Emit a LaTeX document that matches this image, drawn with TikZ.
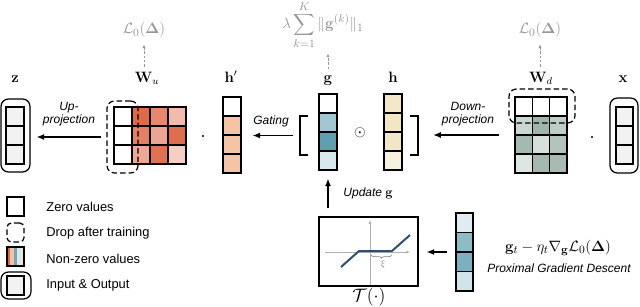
\documentclass[tikz,border=0pt]{standalone}
\usepackage{amsmath}
\usepackage[no-math]{fontspec}
\setsansfont{Liberation Sans}
\usetikzlibrary{arrows.meta, calc, decorations.pathreplacing}
\definecolor{upred}{RGB}{224,105,74}
\definecolor{peach}{RGB}{244,196,164}
\definecolor{gblue}{RGB}{95,159,178}
\definecolor{hyellow}{RGB}{241,231,197}
\definecolor{dgreen}{RGB}{159,181,171}
\definecolor{iogray}{RGB}{242,242,242}
\definecolor{lossgray}{RGB}{150,150,150}
\definecolor{tcurve}{RGB}{47,78,112}

\begin{document}
\begin{tikzpicture}[x=0.8pt, y=-0.8pt,
    cell/.style={draw, line width=1pt},
    outline/.style={draw, line width=1pt, inner sep=0pt},
    iobox/.style={draw, line width=1pt, rounded corners=6pt, inner sep=0pt},
    dropbox/.style={draw, line width=1pt, dash pattern=on 4.4pt off 2.4pt, rounded corners=6pt, inner sep=0pt},
    arr/.style={-{Latex[length=6pt,width=4.8pt]}, line width=1pt},
    lossarr/.style={-{Latex[length=3pt,width=2.6pt]}, lossgray, line width=0.6pt, dash pattern=on 2pt off 1.4pt},
    vlbl/.style={font=\fontsize{11.5}{13}\selectfont, anchor=base},
    lossf/.style={font=\fontsize{13}{15}\selectfont, text=lossgray},
    lbl/.style={font=\sffamily\itshape\fontsize{9.6}{10.4}\selectfont, align=center},
    legtxt/.style={font=\sffamily\fontsize{10.3}{12}\selectfont, anchor=west},
    dotn/.style={circle, fill, inner sep=0pt, minimum size=1.8pt},
    bracket/.style={line width=1.6pt},
    axis/.style={-{Latex[length=3pt,width=2.4pt]}, gray!60, line width=0.5pt}
]
  \useasboundingbox (0,0) rectangle (640,306);

  % Output z
  \foreach \r in {0,1,2}
    \filldraw[cell, fill=iogray] (6,{107+19*\r}) rectangle ++(18,19);
  \node[iobox, minimum width=23.2pt, minimum height=58.4pt] (zout) at (15.5,135.5) {};
  \node[vlbl] (zlab) at (15,82) {$\mathbf{z}$};

  % Up-projection W_u
  \foreach \r/\cs in {0/{white,upred,upred!80,upred!45},
                      1/{white,upred!85,upred!60,upred!98},
                      2/{white,upred!58,upred!95,upred!32}}
    \foreach \c [count=\k from 0] in \cs
      \filldraw[cell, fill=\c] ({114+18*\k},{107+19*\r}) rectangle ++(18,19);
  \node[outline, minimum width=57.6pt, minimum height=45.6pt] (Wu) at (150,135.5) {};
  \node[dropbox, minimum width=24.8pt, minimum height=57.6pt] (Wudrop) at (122.5,137) {};
  \node[vlbl] (Wulab) at (147,82) {$\mathbf{W}_u$};
  \node[lossf] (lossu) at (144,30) {$\mathcal{L}_0(\mathbf{\Delta})$};
  \draw[lossarr, shorten <=0.5pt, shorten >=2pt] (Wulab.north -| lossu.south) -- (lossu.south);

  \node[dotn] (dotu) at (203,136) {};

  % Gated hidden h'
  \foreach \c [count=\r from 0] in {white,peach,peach,peach}
    \filldraw[cell, fill=\c] (223,{97+19*\r}) rectangle ++(18,19);
  \node[outline, minimum width=14.4pt, minimum height=60.8pt] (hp) at (232,135) {};
  \node[vlbl] (hplab) at (231,82) {$\mathbf{h}'$};

  % Gate g and hidden h
  \foreach \c [count=\r from 0] in {white,gblue!58,gblue,gblue!24}
    \filldraw[cell, fill=\c] (319,{94+19*\r}) rectangle ++(18,19);
  \node[outline, minimum width=14.4pt, minimum height=60.8pt] (gate) at (328,132) {};
  \foreach \c [count=\r from 0] in {hyellow!95,hyellow,hyellow,hyellow!55}
    \filldraw[cell, fill=\c] (384,{94+19*\r}) rectangle ++(18,19);
  \node[outline, minimum width=14.4pt, minimum height=60.8pt] (hid) at (393,132) {};
  \node[font=\fontsize{12}{14}\selectfont] (had) at (360,133) {$\odot$};
  \node[vlbl] (glab) at (328,82) {$\mathbf{g}$};
  \node[vlbl] (hlab) at (393,82) {$\mathbf{h}$};
  \node[lossf] (lossg) at (323,25) {$\displaystyle\lambda\sum_{k=1}^{K}\|\mathbf{g}^{(k)}\|_1$};
  \draw[lossarr, shorten <=1.5pt] (glab.north) -- (glab.north |- lossg.south);

  % Brackets round g and h
  \node[minimum width=94.4pt, minimum height=31.2pt, inner sep=0pt] (gh) at (359,135.5) {};
  \draw[bracket] ([xshift=6.4pt]gh.north west) -- (gh.north west) -- (gh.south west) -- ([xshift=6.4pt]gh.south west);
  \draw[bracket] ([xshift=-6.4pt]gh.north east) -- (gh.north east) -- (gh.south east) -- ([xshift=-6.4pt]gh.south east);

  % Down-projection W_d
  \foreach \r/\cs in {0/{white,white,white},
                      1/{dgreen!55,dgreen,dgreen!68},
                      2/{dgreen!95,dgreen!43,dgreen!80},
                      3/{dgreen!34,dgreen!96,dgreen!92}}
    \foreach \c [count=\k from 0] in \cs
      \filldraw[cell, fill=\c] ({515+17.33*\k},{97+19*\r}) rectangle ++(17.33,19);
  \node[outline, minimum width=41.6pt, minimum height=60.8pt] (Wd) at (541,135) {};
  \node[dropbox, minimum width=52.8pt, minimum height=27.2pt] (Wddrop) at (542,106) {};
  \node[vlbl] (Wdlab) at (541,82) {$\mathbf{W}_d$};
  \node[lossf] (lossd) at (540,30) {$\mathcal{L}_0(\mathbf{\Delta})$};
  \draw[lossarr, shorten <=0.5pt, shorten >=2pt] (Wdlab.north -| lossd.south) -- (lossd.south);

  \node[dotn] (dotd) at (592,137) {};

  % Input x
  \foreach \r in {0,1,2}
    \filldraw[cell, fill=iogray] (616,{107+19*\r}) rectangle ++(17,19);
  \node[iobox, minimum width=22.4pt, minimum height=60pt] (xin) at (624,135.5) {};
  \node[vlbl] (xlab) at (623,82) {$\mathbf{x}$};

  % Arrows
  \draw[arr, shorten <=4pt, shorten >=4.8pt] (Wudrop.west) -- (Wudrop.west -| zout.east);
  \node[lbl] (uplbl) at (69,114) {Up-\\projection};
  \draw[arr, shorten <=5.6pt, shorten >=8.8pt] (gh.west) -- (gh.west -| hp.east);
  \node[lbl] (gatelbl) at (271,121) {Gating};
  \draw[arr, shorten <=12pt, shorten >=12pt] (Wd.west) -- (Wd.west -| gh.east);
  \node[lbl] (downlbl) at (468,114) {Down-\\projection};

  % Proximal operator T
  \node[outline, minimum width=79.2pt, minimum height=55.2pt] (T) at (368.5,251.5) {};
  \draw[axis] (325,252) -- (410,252);
  \draw[axis] (370,285) -- (370,220);
  \draw[tcurve, line width=1.6pt] (341,267) -- (359,251) -- (392,251) -- (410,235);
  \draw[decorate, decoration={brace, mirror, amplitude=2.5pt}, gray, line width=0.5pt] (371,255) -- (392,255);
  \node[font=\fontsize{7}{8}\selectfont, text=gray] (xi) at (383,264) {$\xi$};
  \node[font=\fontsize{15}{17}\selectfont] (Tlab) at (369,297) {$\mathcal{T}(\cdot)$};
  \draw[arr, shorten <=6.4pt, shorten >=6.4pt] (T.north -| gate.south) -- (gate.south);
  \node[lbl, anchor=west] (updlbl) at (339,193) {Update \upshape$\mathbf{g}$};

  % Gradient step g_t
  \foreach \c [count=\r from 0] in {gblue!20,gblue!71,gblue!82,gblue!29}
    \filldraw[cell, fill=\c] (456,{213+19.5*\r}) rectangle ++(17,19.5);
  \node[outline, minimum width=13.6pt, minimum height=62.4pt] (gt) at (464.5,252) {};
  \draw[arr, shorten <=6.4pt, shorten >=6.4pt] (gt.west) -- (gt.west -| T.east);
  \node[font=\fontsize{13}{15}\selectfont] (pgdf) at (558,248) {$\mathbf{g}_t-\eta_t\nabla_{\mathbf{g}}\mathcal{L}_0(\mathbf{\Delta})$};
  \node[lbl] (pgdlbl) at (559,268) {Proximal Gradient Descent};

  % Legend
  \node[outline, minimum width=13.6pt, minimum height=15.2pt] (lzero) at (15.5,206.5) {};
  \node[dropbox, rounded corners=3.5pt, minimum width=13.6pt, minimum height=15.2pt] (ldrop) at (15.5,232.5) {};
  \foreach \c [count=\k from 0] in {upred,peach,gblue!90,gblue!25,hyellow}
    \fill[\c] ({7+3.4*\k},247) rectangle ++(3.4,19);
  \node[outline, minimum width=13.6pt, minimum height=15.2pt] (lnz) at (15.5,256.5) {};
  \node[outline, fill=iogray, minimum width=13.6pt, minimum height=15.2pt] (lioin) at (15.5,285.5) {};
  \node[iobox, minimum width=24pt, minimum height=21.6pt] (lio) at (16,285.5) {};
  \node[legtxt] (tzero) at (42,207) {Zero values};
  \node[legtxt] (tdrop) at (42,233) {Drop after training};
  \node[legtxt] (tnz) at (42,259) {Non-zero values};
  \node[legtxt] (tio) at (42,285) {Input \& Output};
\end{tikzpicture}
\end{document}
